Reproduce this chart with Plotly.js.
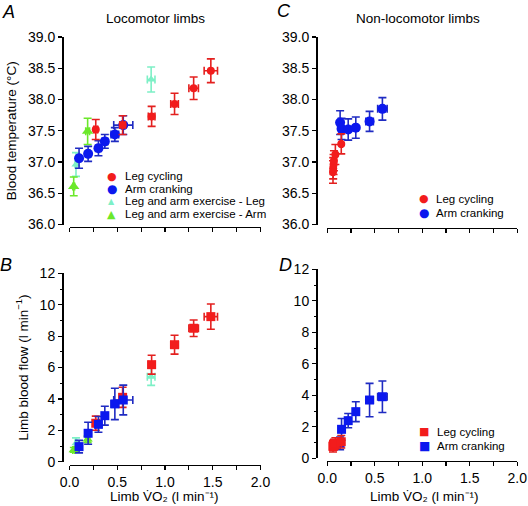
<!DOCTYPE html>
<html><head><meta charset="utf-8">
<script src="https://cdn.plot.ly/plotly-3.0.1.min.js"></script>
<style>html,body{margin:0;padding:0;background:#fff}#chart{width:528px;height:506px}</style>
</head><body><div id="chart"></div>
<script>
// ---------- series names ----------
const nameLeg = 'Leg cycling';
const nameArm = 'Arm cranking';
const nameComboLeg = 'Leg and arm exercise - Leg';
const nameComboArm = 'Leg and arm exercise - Arm';

// ---------- Locomotor limbs (panels A, B) ----------
const locoLegVO2      = [0.275, 0.556, 0.86, 1.10, 1.30, 1.48];
const locoLegVO2Err   = [0.02, 0.03, 0.035, 0.04, 0.05, 0.07];
const locoLegTemp     = [37.52, 37.59, 37.73, 37.93, 38.18, 38.46];
const locoLegTempErr  = [0.16, 0.15, 0.16, 0.17, 0.18, 0.19];
const locoLegFlow     = [2.45, 4.10, 6.18, 7.45, 8.50, 9.24];
const locoLegFlowErr  = [0.45, 0.64, 0.60, 0.60, 0.53, 0.80];

const locoArmVO2      = [0.10, 0.195, 0.303, 0.37, 0.475, 0.563];
const locoArmVO2Err   = [0.02, 0.02, 0.03, 0.03, 0.04, 0.10];
const locoArmTemp     = [37.06, 37.13, 37.22, 37.33, 37.44, 37.59];
const locoArmTempErr  = [0.16, 0.12, 0.12, 0.11, 0.11, 0.15];
const locoArmFlow     = [0.96, 1.81, 2.38, 2.93, 3.68, 3.93];
const locoArmFlowErr  = [0.40, 0.70, 0.50, 0.60, 1.00, 0.95];

const comboLegVO2     = [0.068, 0.855];
const comboLegVO2Err  = [0.01, 0.04];
const comboLegTemp    = [36.96, 38.32];
const comboLegTempErr = [0.19, 0.20];
const comboLegFlow    = [1.17, 5.41];
const comboLegFlowErr = [0.35, 0.55];

const comboArmVO2     = [0.044, 0.19];
const comboArmVO2Err  = [0.01, 0.02];
const comboArmTemp    = [36.61, 37.49];
const comboArmTempErr = [0.15, 0.21];
const comboArmFlow    = [0.75, 1.43];
const comboArmFlowErr = [0.15, 0.20];

// ---------- Non-locomotor limbs (panels C, D) ----------
const nonLegVO2       = [0.06, 0.062, 0.066, 0.07, 0.085, 0.147];
const nonLegVO2Err    = [0.01, 0.01, 0.01, 0.01, 0.01, 0.01];
const nonLegTemp      = [36.84, 36.90, 36.96, 37.02, 37.12, 37.29];
const nonLegTempErr   = [0.18, 0.17, 0.16, 0.16, 0.16, 0.16];
const nonLegFlow      = [0.75, 0.80, 0.85, 0.90, 0.95, 1.05];
const nonLegFlowErr   = [0.35, 0.30, 0.30, 0.30, 0.35, 0.40];

const nonArmVO2       = [0.135, 0.15, 0.22, 0.30, 0.445, 0.58];
const nonArmVO2Err    = [0.01, 0.01, 0.015, 0.02, 0.04, 0.05];
const nonArmTemp      = [37.63, 37.53, 37.52, 37.55, 37.65, 37.85];
const nonArmTempErr   = [0.19, 0.17, 0.17, 0.17, 0.16, 0.18];
const nonArmFlow      = [0.95, 1.84, 2.39, 2.96, 3.70, 3.91];
const nonArmFlowErr   = [0.40, 0.69, 0.45, 0.63, 1.06, 1.00];

// ---------- ticks ----------
const vo2TickVals   = [0, 0.5, 1.0, 1.5, 2.0];
const vo2TickText   = ['0.0', '0.5', '1.0', '1.5', '2.0'];
const vo2MinorVals  = [0.25, 0.75, 1.25, 1.75];
const tempTickVals  = [36.0, 36.5, 37.0, 37.5, 38.0, 38.5, 39.0];
const tempTickText  = ['36.0', '36.5', '37.0', '37.5', '38.0', '38.5', '39.0'];
const flowTickVals  = [0, 2, 4, 6, 8, 10, 12];
const flowTickText  = ['0', '2', '4', '6', '8', '10', '12'];
const flowMinorVals = [1, 3, 5, 7, 9, 11];

// ---------- style ----------
const RED = '#f21c1c', RED_E = '#e3201f';
const BLUE = '#0b18ee', BLUE_E = '#1f2bc2';
const AQUA = '#7df0c6', GREEN = '#6be82a';
const FONT = 'Liberation Sans, Arial, sans-serif';
const W = 528, H = 506;
const px = v => v / W, py = v => 1 - v / H;

function tr(x, xe, y, ye, color, ecolor, symbol, size, name, xa, ya) {
  return {
    type: 'scatter', mode: 'markers', x: x, y: y, name: name,
    xaxis: xa, yaxis: ya, showlegend: false, cliponaxis: false,
    marker: {color: color, symbol: symbol, size: size, line: {width: 0}},
    error_y: {type: 'data', array: ye, visible: true, color: ecolor, thickness: 1.6, width: 4},
    error_x: {type: 'data', array: xe, visible: true, color: ecolor, thickness: 1.6, width: 4}
  };
}

const data = [
  // A
  tr(comboLegVO2, comboLegVO2Err, comboLegTemp, comboLegTempErr, AQUA, AQUA, 'triangle-up', 8, nameComboLeg, 'x', 'y'),
  tr(comboArmVO2, comboArmVO2Err, comboArmTemp, comboArmTempErr, GREEN, GREEN, 'triangle-up', 10, nameComboArm, 'x', 'y'),
  tr(locoArmVO2, locoArmVO2Err, locoArmTemp, locoArmTempErr, BLUE, BLUE_E, 'circle', 10, nameArm, 'x', 'y'),
  tr(locoLegVO2, locoLegVO2Err, locoLegTemp, locoLegTempErr, RED, RED_E, 'circle', 8, nameLeg, 'x', 'y'),
  // B
  tr(comboLegVO2, comboLegVO2Err, comboLegFlow, comboLegFlowErr, AQUA, AQUA, 'triangle-up', 8, nameComboLeg, 'x2', 'y2'),
  tr(comboArmVO2, comboArmVO2Err, comboArmFlow, comboArmFlowErr, GREEN, GREEN, 'triangle-up', 9, nameComboArm, 'x2', 'y2'),
  tr(locoLegVO2, locoLegVO2Err, locoLegFlow, locoLegFlowErr, RED, RED_E, 'square', 9, nameLeg, 'x2', 'y2'),
  tr(locoArmVO2, locoArmVO2Err, locoArmFlow, locoArmFlowErr, BLUE, BLUE_E, 'square', 9, nameArm, 'x2', 'y2'),
  // C
  tr(nonArmVO2, nonArmVO2Err, nonArmTemp, nonArmTempErr, BLUE, BLUE_E, 'circle', 10, nameArm, 'x3', 'y3'),
  tr(nonLegVO2, nonLegVO2Err, nonLegTemp, nonLegTempErr, RED, RED_E, 'circle', 8, nameLeg, 'x3', 'y3'),
  // D
  tr(nonArmVO2, nonArmVO2Err, nonArmFlow, nonArmFlowErr, BLUE, BLUE_E, 'square', 9, nameArm, 'x4', 'y4'),
  tr(nonLegVO2, nonLegVO2Err, nonLegFlow, nonLegFlowErr, RED, RED_E, 'square', 9, nameLeg, 'x4', 'y4')
];

function xax(domain, pos, labels) {
  const a = {
    domain: domain, range: [0, 2], anchor: 'free', position: pos,
    showline: true, linecolor: '#000', linewidth: 1.5, mirror: false,
    ticks: 'outside', ticklen: 4, tickwidth: 1.2, tickcolor: '#000',
    minor: {tickmode: 'array', tickvals: vo2MinorVals, ticks: 'outside', ticklen: 4, tickwidth: 1.2, tickcolor: '#000', showgrid: false},
    showgrid: false, zeroline: false,
    tickfont: {family: FONT, size: 14, color: '#000'}
  };
  if (labels) {
    a.tickmode = 'array'; a.tickvals = vo2TickVals; a.ticktext = vo2TickText; a.showticklabels = true;
  } else {
    a.tickmode = 'linear'; a.tick0 = 0; a.dtick = 0.5; a.showticklabels = false;
  }
  return a;
}
function yax(domain, pos, range, vals, text, title, minor) {
  const a = {
    domain: domain, range: range, anchor: 'free', position: pos,
    showline: true, linecolor: '#000', linewidth: 1.5,
    ticks: 'outside', ticklen: 4, tickwidth: 1.2, tickcolor: '#000',
    tickmode: 'array', tickvals: vals, ticktext: text,
    showgrid: false, zeroline: false,
    tickfont: {family: FONT, size: 14, color: '#000'}
  };
  if (title) a.title = {text: title, standoff: 6, font: {family: FONT, size: 13.5, color: '#000'}};
  if (minor) a.minor = {tickmode: 'array', tickvals: minor, ticks: 'outside', ticklen: 2.5, tickwidth: 1, tickcolor: '#000', showgrid: false};
  return a;
}

const xL = [px(69.5), px(260.5)], xR = [px(327.3), px(517.3)];
const vo2Title = 'Limb V̇O₂ (l min⁻¹)';

const annotations = [];
function txt(x, y, text, size, opts) {
  annotations.push(Object.assign({xref: 'paper', yref: 'paper', x: px(x), y: py(y), text: text,
    showarrow: false, xanchor: 'center', yanchor: 'middle',
    font: {family: FONT, size: size, color: '#000'}}, opts || {}));
}
// panel letters & titles
txt(8, 12, '<i>A</i>', 18);
txt(6, 265, '<i>B</i>', 18);
txt(284, 11, '<i>C</i>', 18);
txt(285, 265, '<i>D</i>', 18);
txt(155, 18, 'Locomotor limbs', 13.5);
txt(418, 18, 'Non-locomotor limbs', 13.5);
// x-axis titles (bottom panels)
txt(164, 496.5, vo2Title, 13.5);
txt(424, 496.5, vo2Title, 13.5);

// legends
function legend(symX, textX, rows) {
  rows.forEach(r => {
    txt(symX, r.y, r.glyph, r.gsize, {font: {family: 'DejaVu Sans', size: r.gsize, color: r.color}});
    txt(textX, r.y, r.name, 11.5, {xanchor: 'left'});
  });
}
legend(111.7, 122.5, [
  {y: 176, glyph: '●', gsize: 11, color: RED, name: nameLeg},
  {y: 189, glyph: '●', gsize: 12, color: BLUE, name: nameArm},
  {y: 201.3, glyph: '▲', gsize: 8, color: AQUA, name: nameComboLeg},
  {y: 214.3, glyph: '▲', gsize: 11, color: GREEN, name: nameComboArm}
]);
legend(424, 434, [
  {y: 199, glyph: '●', gsize: 11, color: RED, name: nameLeg},
  {y: 213.3, glyph: '●', gsize: 12, color: BLUE, name: nameArm}
]);
legend(424, 435, [
  {y: 431.7, glyph: '■', gsize: 11, color: RED, name: nameLeg},
  {y: 445.7, glyph: '■', gsize: 12, color: BLUE, name: nameArm}
]);

const layout = {
  width: W, height: H, margin: {l: 0, r: 0, t: 0, b: 0},
  paper_bgcolor: '#fff', plot_bgcolor: '#fff', showlegend: false,
  font: {family: FONT, color: '#000'},
  xaxis:  xax(xL, py(226.5), false),
  yaxis:  yax([py(224.5), py(37)], px(62), [36, 39], tempTickVals, tempTickText, 'Blood temperature (°C)'),
  xaxis2: xax(xL, py(464.5), true),
  yaxis2: yax([py(461.7), py(273.3)], px(62), [0, 12], flowTickVals, flowTickText, 'Limb blood flow (l min<sup>−1</sup>)', flowMinorVals),
  xaxis3: xax(xR, py(227.5), false),
  yaxis3: yax([py(224.5), py(37)], px(316), [36, 39], tempTickVals, tempTickText, ''),
  xaxis4: xax(xR, py(460.5), true),
  yaxis4: yax([py(458.3), py(269.3)], px(316), [0, 12], flowTickVals, flowTickText, '', flowMinorVals),
  annotations: annotations
};

Plotly.newPlot('chart', data, layout, {displayModeBar: false, staticPlot: true});
</script></body></html>
